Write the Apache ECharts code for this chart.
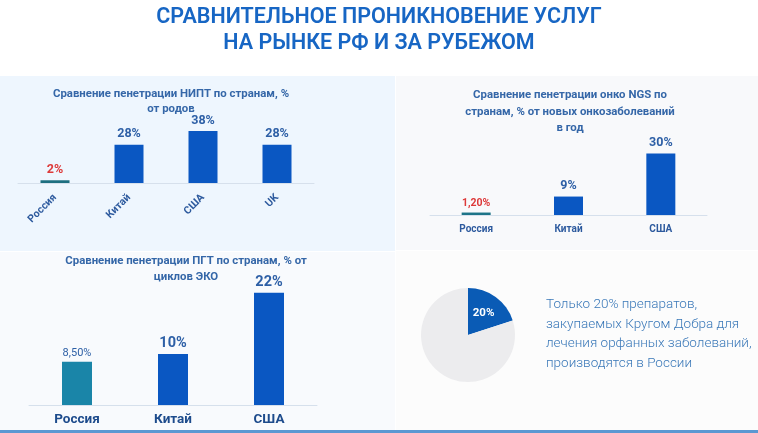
<!DOCTYPE html>
<html>
<head>
<meta charset="utf-8">
<script src="https://cdn.jsdelivr.net/npm/echarts@6/dist/echarts.min.js"></script>
<style>
  html, body { margin: 0; padding: 0; background: #ffffff; }
  #chart { width: 758px; height: 433px; }
</style>
</head>
<body>
<div id="chart"></div>
<script>
// данные
const niptCountries = ['Россия', 'Китай', 'США', 'UK'];
const niptValues = [2, 28, 38, 28];
const niptLabels = ['2%', '28%', '38%', '28%'];

const ngsCountries = ['Россия', 'Китай', 'США'];
const ngsValues = [1.2, 9, 30];
const ngsLabels = ['1,20%', '9%', '30%'];

const pgtCountries = ['Россия', 'Китай', 'США'];
const pgtValues = [8.5, 10, 22];
const pgtLabels = ['8,50%', '10%', '22%'];

const pieValues = [20, 80];
const pieLabels = ['20%', ''];

const noteLines = [
    'Только 20% препаратов,',
    'закупаемых Кругом Добра для',
    'лечения орфанных заболеваний,',
    'производятся в России'
];

const BLUE = '#0a57c2';
const LABEL = '#2d5fa6';
const RED = '#dd3a3a';
const FONT = 'Roboto, "Noto Sans", sans-serif';

// цвет столбца / подписи: Россия выделена
function barData(values, labels, russiaColor, labelFn) {
    return values.map(function (v, i) {
        return {
            value: v,
            itemStyle: { color: i === 0 ? russiaColor : BLUE },
            label: labelFn(i, labels[i])
        };
    });
}

let chart = echarts.init(document.getElementById('chart'));

let option = {
    backgroundColor: '#ffffff',
    animation: false,
    textStyle: { fontFamily: FONT },
    graphic: [
        { type: 'rect', shape: { x: 0, y: 76, width: 395, height: 175 }, style: { fill: '#eef6fe' }, z: -10 },
        { type: 'rect', shape: { x: 396, y: 76, width: 362, height: 174 }, style: { fill: '#f8f9fb' }, z: -10 },
        { type: 'rect', shape: { x: 0, y: 252, width: 395, height: 178 }, style: { fill: '#f8fafd' }, z: -10 },
        { type: 'rect', shape: { x: 396, y: 251, width: 362, height: 179 }, style: { fill: '#fcfcfc' }, z: -10 },
        { type: 'rect', shape: { x: 0, y: 430, width: 758, height: 3 }, style: { fill: '#5b98d2' }, z: -10 },
        {
            type: 'text', left: 546, top: 295,
            style: {
                text: noteLines.join('\n'),
                fill: '#3a78b8',
                font: '300 13.5px ' + FONT,
                lineHeight: 19.5
            }
        }
    ],
    title: [
        {
            text: 'СРАВНИТЕЛЬНОЕ ПРОНИКНОВЕНИЕ УСЛУГ\nНА РЫНКЕ РФ И ЗА РУБЕЖОМ',
            left: 'center', top: 0,
            textStyle: { color: '#1766c4', fontSize: 21.5, fontWeight: 600, lineHeight: 26, fontFamily: FONT }
        },
        {
            text: 'Сравнение пенетрации НИПТ по странам, %\nот родов',
            left: 166, top: 82, textAlign: 'center',
            textStyle: { color: '#3567a8', fontSize: 11.4, fontWeight: 'bold', lineHeight: 15, fontFamily: FONT }
        },
        {
            text: 'Сравнение пенетрации онко NGS по\nстранам, % от новых онкозаболеваний\nв год',
            left: 565, top: 82, textAlign: 'center',
            textStyle: { color: '#3567a8', fontSize: 11.4, fontWeight: 'bold', lineHeight: 16.5, fontFamily: FONT }
        },
        {
            text: 'Сравнение пенетрации ПГТ по странам, % от\nциклов ЭКО',
            left: 181, top: 248, textAlign: 'center',
            textStyle: { color: '#3567a8', fontSize: 11.4, fontWeight: 'bold', lineHeight: 16, fontFamily: FONT }
        }
    ],
    grid: [
        { left: 18, width: 296, top: 101, height: 82 },
        { left: 430, width: 277, top: 133, height: 82 },
        { left: 29, width: 288, top: 252, height: 153 }
    ],
    xAxis: [
        {
            gridIndex: 0, type: 'category', data: niptCountries,
            axisLine: { lineStyle: { color: '#d6e0ec' } }, axisTick: { show: false },
            axisLabel: { rotate: 45, color: '#2d5a9e', fontSize: 10.5, fontWeight: 'bold', margin: 13 }
        },
        {
            gridIndex: 1, type: 'category', data: ngsCountries,
            axisLine: { lineStyle: { color: '#d6e0ec' } }, axisTick: { show: false },
            axisLabel: { color: '#2d5a9e', fontSize: 10, fontWeight: 'bold', margin: 9 }
        },
        {
            gridIndex: 2, type: 'category', data: pgtCountries,
            axisLine: { lineStyle: { color: '#d6e0ec' } }, axisTick: { show: false },
            axisLabel: { color: '#1d4b8c', fontSize: 13.5, fontWeight: 'bold', margin: 8 }
        }
    ],
    yAxis: [
        { gridIndex: 0, type: 'value', min: 0, max: 60, show: false },
        { gridIndex: 1, type: 'value', min: 0, max: 40, show: false },
        { gridIndex: 2, type: 'value', min: 0, max: 30, show: false }
    ],
    series: [
        {
            type: 'bar', xAxisIndex: 0, yAxisIndex: 0, barWidth: 29,
            data: barData(niptValues, niptLabels, '#1d6f80', function (i, t) {
                return {
                    show: true, position: 'top', formatter: t, distance: 4,
                    color: i === 0 ? RED : LABEL, fontSize: 12.5, fontWeight: 'bold'
                };
            })
        },
        {
            type: 'bar', xAxisIndex: 1, yAxisIndex: 1, barWidth: 29,
            data: barData(ngsValues, ngsLabels, '#1d7488', function (i, t) {
                return {
                    show: true, position: 'top', formatter: t, distance: 4,
                    color: i === 0 ? RED : LABEL, fontSize: i === 0 ? 10.5 : 12.5, fontWeight: 'bold'
                };
            })
        },
        {
            type: 'bar', xAxisIndex: 2, yAxisIndex: 2, barWidth: 30,
            data: barData(pgtValues, pgtLabels, '#1a85a8', function (i, t) {
                return {
                    show: true, position: 'top', formatter: t, distance: 3,
                    color: LABEL, fontSize: i === 0 ? 11 : 14.5, fontWeight: i === 0 ? 'normal' : 'bold'
                };
            })
        },
        {
            type: 'pie', center: [468, 335], radius: [0, 47],
            startAngle: 90, clockwise: true, silent: true,
            label: { show: true, position: 'inside', color: '#ffffff', fontSize: 11.5, fontWeight: 'bold',
                formatter: function (p) { return pieLabels[p.dataIndex]; } },
            labelLine: { show: false },
            data: [
                { value: pieValues[0], itemStyle: { color: '#0a5bb5' } },
                { value: pieValues[1], itemStyle: { color: '#ececee' } }
            ]
        }
    ]
};

chart.setOption(option);
</script>
</body>
</html>
